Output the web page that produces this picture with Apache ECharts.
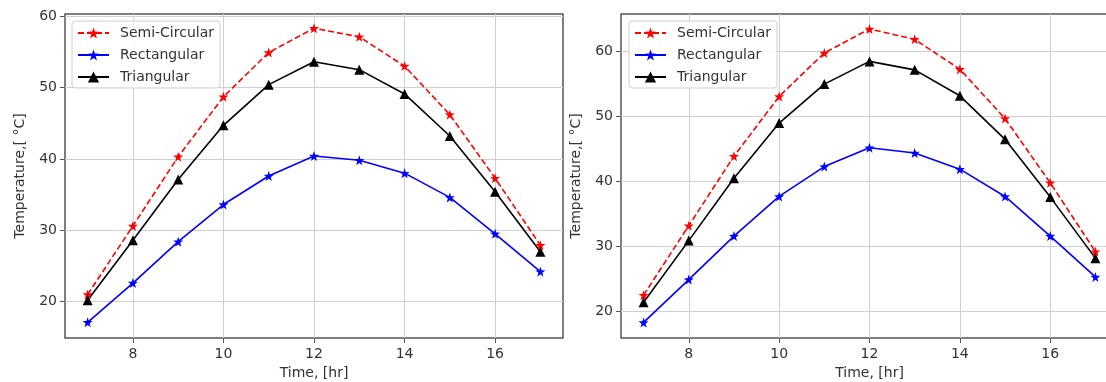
<!DOCTYPE html>
<html>
<head>
<meta charset="utf-8">
<script src="https://cdn.jsdelivr.net/npm/echarts@6/dist/echarts.min.js"></script>
<style>
html,body{margin:0;padding:0;background:#fff;}
#c{width:1106px;height:382px;}
</style>
</head>
<body>
<div id="c"></div>
<script>
const hours = [7, 8, 9, 10, 11, 12, 13, 14, 15, 16, 17];
const xTicks = [8, 10, 12, 14, 16];
const yTicks = [20, 30, 40, 50, 60];
const seriesNames = ['Semi-Circular', 'Rectangular', 'Triangular'];

const leftSemi = [21.0, 30.6, 40.3, 48.7, 54.9, 58.3, 57.1, 53.0, 46.2, 37.3, 27.9];
const leftRect = [17.1, 22.6, 28.4, 33.6, 37.6, 40.4, 39.8, 38.0, 34.6, 29.5, 24.2];
const leftTri  = [20.2, 28.6, 37.1, 44.7, 50.4, 53.6, 52.5, 49.1, 43.2, 35.4, 27.0];

const rightSemi = [22.5, 33.2, 43.9, 53.1, 59.8, 63.5, 61.9, 57.3, 49.7, 39.8, 29.2];
const rightRect = [18.3, 24.9, 31.6, 37.7, 42.3, 45.2, 44.4, 41.9, 37.7, 31.6, 25.3];
const rightTri  = [21.4, 30.9, 40.5, 49.0, 55.0, 58.5, 57.2, 53.2, 46.5, 37.6, 28.2];

const xLabel = 'Time, [hr]';
const yLabel = 'Temperature,[ °C]';

const STAR = 'path://M0,-10 L2.35,-3.24 9.51,-3.09 3.8,1.24 5.88,8.09 0,4 -5.88,8.09 -3.8,1.24 -9.51,-3.09 -2.35,-3.24 Z';
const FONT = 'DejaVu Sans';
const TXT = '#333';
const FS = 14;

function pairs(vals) { return hours.map((h, i) => [h, vals[i]]); }

function xAxis(gi) {
  return {
    type: 'value', gridIndex: gi, min: 6.5, max: 17.5,
    name: xLabel, nameLocation: 'middle', nameGap: 27,
    nameTextStyle: { fontFamily: FONT, fontSize: FS, color: TXT },
    axisLine: { show: false },
    axisTick: { show: true, customValues: xTicks, length: 5, lineStyle: { color: '#555' } },
    axisLabel: { customValues: xTicks, fontFamily: FONT, fontSize: FS, color: TXT, margin: 9 },
    splitLine: { show: true, lineStyle: { color: '#cfcfcf', width: 1 } }
  };
}
function yAxis(gi, mn, mx) {
  return {
    type: 'value', gridIndex: gi, min: mn, max: mx,
    name: yLabel, nameLocation: 'middle', nameGap: 38,
    nameTextStyle: { fontFamily: FONT, fontSize: FS, color: TXT },
    axisLine: { show: false },
    axisTick: { show: true, customValues: yTicks, length: 5, lineStyle: { color: '#555' } },
    axisLabel: { customValues: yTicks, fontFamily: FONT, fontSize: FS, color: TXT, margin: 8 },
    splitLine: { show: true, lineStyle: { color: '#cfcfcf', width: 1 } }
  };
}
function mk(gi, name, vals) {
  const styles = {
    'Semi-Circular': { color: '#ff0000', type: [6, 3], symbol: STAR, size: 10 },
    'Rectangular':   { color: '#0000ff', type: 'solid', symbol: STAR, size: 10 },
    'Triangular':    { color: '#000000', type: 'solid', symbol: 'triangle', size: 10 }
  }[name];
  return {
    type: 'line', name: name, xAxisIndex: gi, yAxisIndex: gi,
    data: pairs(vals), symbol: styles.symbol, symbolSize: styles.size,
    showAllSymbol: true,
    itemStyle: { color: styles.color },
    lineStyle: { color: styles.color, width: 1.6, type: styles.type },
    animation: false, z: 3
  };
}
function legend(left) {
  return {
    data: seriesNames, orient: 'vertical', left: left, top: 21,
    itemWidth: 31, itemHeight: 14, itemGap: 8,
    padding: [5, 6, 4, 5],
    backgroundColor: 'rgba(255,255,255,0.85)', borderColor: '#d0d0d0', borderWidth: 1, borderRadius: 3,
    textStyle: { fontFamily: FONT, fontSize: FS, color: TXT, padding: [0, 0, 0, 6] },
    selectedMode: false
  };
}

const chart = echarts.init(document.getElementById('c'), null, { renderer: 'canvas' });
chart.setOption({
  backgroundColor: '#fff',
  animation: false,
  grid: [
    { left: 65, top: 14, width: 498, height: 324, show: true, borderColor: '#555', borderWidth: 1.5, outerBoundsMode: 'none', containLabel: false },
    { left: 621, top: 14, width: 497, height: 324, show: true, borderColor: '#555', borderWidth: 1.5, outerBoundsMode: 'none', containLabel: false }
  ],
  xAxis: [xAxis(0), xAxis(1)],
  yAxis: [yAxis(0, 14.9, 60.3), yAxis(1, 15.9, 65.8)],
  legend: [legend(72), legend(629)],
  series: [
    mk(0, 'Semi-Circular', leftSemi), mk(0, 'Rectangular', leftRect), mk(0, 'Triangular', leftTri),
    mk(1, 'Semi-Circular', rightSemi), mk(1, 'Rectangular', rightRect), mk(1, 'Triangular', rightTri)
  ]
});
</script>
</body>
</html>
